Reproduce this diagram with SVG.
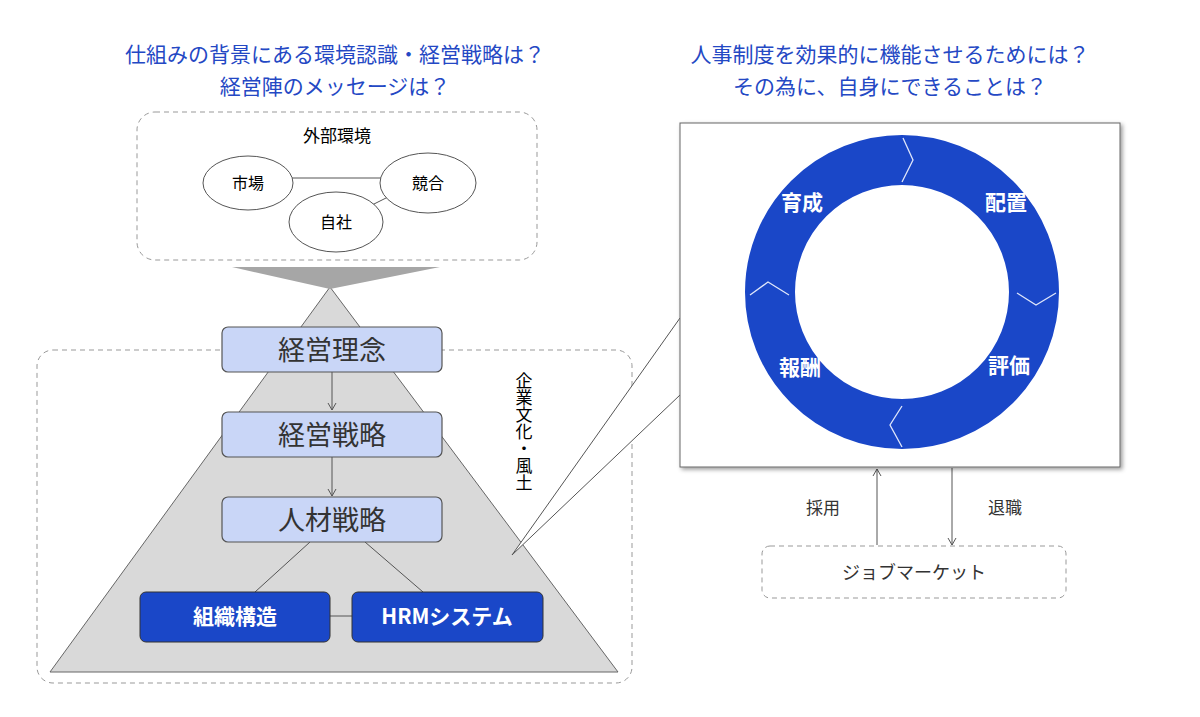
<svg xmlns="http://www.w3.org/2000/svg" width="1200" height="717" viewBox="0 0 1200 717">
<defs>
<style>
text{font-family:"Noto Sans CJK JP","Liberation Sans",sans-serif;text-anchor:middle}
.h{fill:#2448c4;font-size:21px}
.dash{fill:none;stroke:#999;stroke-dasharray:5 4}
.lb{fill:#c9d6f7;stroke:#555;stroke-width:1.2}
.db{fill:#1a47c8;stroke:#333;stroke-width:1}
.ln{stroke:#555;stroke-width:1;fill:none}
.ell{fill:#fff;stroke:#555}
.w{fill:#fff;font-weight:bold}
.chev{fill:none;stroke:#dfe6fa;stroke-width:1.3}
</style>
<marker id="ah" markerWidth="10" markerHeight="10" refX="8" refY="5" orient="auto"><path d="M1,1 L8,5 L1,9" fill="none" stroke="#555"/></marker>
<filter id="sh"><feDropShadow dx="2" dy="2" stdDeviation="2" flood-opacity="0.4"/></filter>
</defs>
<rect width="1200" height="717" fill="#fff"/>
<text class="h" x="335" y="62">仕組みの背景にある環境認識・経営戦略は？</text>
<text class="h" x="335" y="94">経営陣のメッセージは？</text>
<text class="h" x="890" y="62">人事制度を効果的に機能させるためには？</text>
<text class="h" x="890" y="94">その為に、自身にできることは？</text>

<g id="env">
<rect class="dash" x="137" y="112" width="400" height="148" rx="18"/>
<text x="337" y="142" font-size="17">外部環境</text>
</g>
<g id="links-env"><line class="ln" x1="292" y1="178" x2="382" y2="178"/><line class="ln" x1="372" y1="205" x2="392" y2="195"/></g>
<g id="ichiba"><ellipse class="ell" cx="248" cy="183" rx="45" ry="27"/><text x="248" y="189" font-size="16">市場</text></g>
<g id="kyogo"><ellipse class="ell" cx="428" cy="183" rx="48" ry="30"/><text x="428" y="189" font-size="16">競合</text></g>
<g id="jisha"><ellipse class="ell" cx="336" cy="222" rx="47" ry="30"/><text x="336" y="228" font-size="16">自社</text></g>

<g id="culture"><rect class="dash" x="37" y="350" width="595" height="333" rx="16" stroke="#bbb"/>
<text x="524" y="372" font-size="17" style="writing-mode:vertical-rl;text-anchor:start">企業文化・風土</text></g>
<g id="pyramid"><polygon points="330,287 50,672 618,672" fill="#d9d9d9" stroke="#666"/>
<polygon points="232,267 440,267 330,289" fill="#a6a6a6"/></g>

<g id="connectors">
<line class="ln" x1="332" y1="372" x2="332" y2="410" marker-end="url(#ah)"/>
<line class="ln" x1="332" y1="457" x2="332" y2="496" marker-end="url(#ah)"/>
<line class="ln" x1="310" y1="542" x2="255" y2="592"/>
<line class="ln" x1="365" y1="542" x2="423" y2="592"/>
<line class="ln" x1="330" y1="616" x2="352" y2="616"/>
<line class="ln" x1="877" y1="545" x2="877" y2="469" marker-end="url(#ah)"/>
<line class="ln" x1="952" y1="468" x2="952" y2="545" marker-end="url(#ah)"/>
</g>
<g id="n1"><rect class="lb" x="222" y="327" width="220" height="45" rx="6"/><text x="332" y="360" font-size="27" fill="#333">経営理念</text></g>
<g id="n2"><rect class="lb" x="222" y="412" width="220" height="45" rx="6"/><text x="332" y="445" font-size="27" fill="#333">経営戦略</text></g>
<g id="n3"><rect class="lb" x="222" y="497" width="220" height="45" rx="6"/><text x="332" y="530" font-size="27" fill="#333">人材戦略</text></g>
<g id="n4"><rect class="db" x="140" y="592" width="190" height="50" rx="6"/><text class="w" x="235" y="624" font-size="21">組織構造</text></g>
<g id="n5"><rect class="db" x="352" y="592" width="191" height="50" rx="6"/><text class="w" x="447" y="624" font-size="21">HRMシステム</text></g>

<g id="callout">
<polygon points="680,318 512,555 680,395" fill="#fff" stroke="none"/>
<polyline class="ln" points="680,318 512,555 680,395"/>
<rect x="680" y="123" width="440" height="344" fill="#fff" stroke="#666" filter="url(#sh)"/>
<circle cx="902" cy="292" r="132" fill="none" stroke="#1a47c8" stroke-width="50"/>
<polyline class="chev" points="903,138 913,160 902,182"/>
<polyline class="chev" points="1017,293 1036,305 1056,293"/>
<polyline class="chev" points="902,406 890,425 902,447"/>
<polyline class="chev" points="750,295 768,282 789,295"/>
<text class="w" x="802" y="210" font-size="21">育成</text>
<text class="w" x="1006" y="210" font-size="21">配置</text>
<text class="w" x="1009" y="373" font-size="21">評価</text>
<text class="w" x="800" y="375" font-size="21">報酬</text>
</g>
<text x="823" y="514" font-size="17" fill="#333">採用</text>
<text x="1005" y="514" font-size="17" fill="#333">退職</text>
<g id="market"><rect class="dash" x="762" y="546" width="304" height="52" rx="8"/><text x="914" y="579" font-size="18" fill="#333">ジョブマーケット</text></g>
</svg>
